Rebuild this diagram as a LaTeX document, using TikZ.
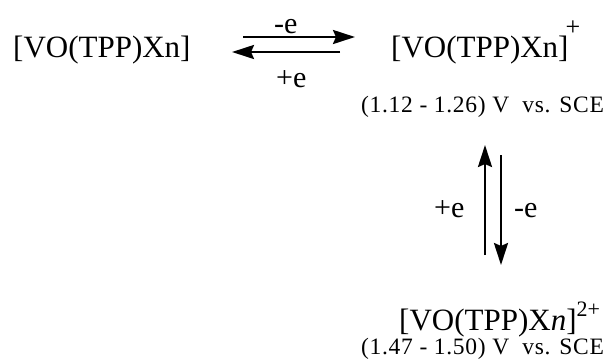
\documentclass[tikz,border=0pt]{standalone}
\usepackage{fontspec}
\setmainfont{Liberation Serif}
\usetikzlibrary{arrows.meta}
\begin{document}
\begin{tikzpicture}[x=1pt, y=-1pt,
    species/.style={inner sep=0pt, anchor=base west, font=\fontsize{31}{31}\selectfont},
    electron/.style={inner sep=0pt, anchor=base west, font=\fontsize{30}{30}\selectfont},
    potential/.style={inner sep=0pt, anchor=base west, font=\fontsize{23.5}{24}\selectfont\addfontfeature{LetterSpace=3}},
    redox/.style={line width=2.6pt, -{Stealth[length=22pt, width=14pt, inset=3pt]}}]
    \useasboundingbox (0,0) rectangle (614,360);

    % Species
    \node[species] (neutral) at (13,57) {[VO(TPP)Xn]};
    \node[species] (cation) at (391,57) {[VO(TPP)Xn]\kern-3pt\raisebox{22pt}{\fontsize{26}{26}\selectfont +}};
    \node[species] (dication) at (399,330) {[VO(TPP)X\textit{n}]\raisebox{14pt}{\fontsize{22}{22}\selectfont 2+}};

    % Potentials
    \node[potential] (potA) at (361,112) {(1.12 - 1.26) V\ \ vs. SCE};
    \node[potential] (potB) at (361,354) {(1.47 - 1.50) V\ \ vs. SCE};

    % First oxidation
    \coordinate (oxAtail) at (243,37);
    \coordinate (oxAtip) at (355,37);
    \coordinate (redAtail) at (340,52);
    \coordinate (redAtip) at (232,52);
    \draw[redox] (oxAtail) -- (oxAtip);
    \draw[redox] (redAtail) -- (redAtip);
    \node[electron] (lossA) at (274,33) {-e};
    \node[electron] (gainA) at (276,87) {+e};

    % Second oxidation
    \coordinate (redBtail) at (485,255);
    \coordinate (redBtip) at (485,145);
    \coordinate (oxBtail) at (501,155);
    \coordinate (oxBtip) at (501,265);
    \draw[redox] (redBtail) -- (redBtip);
    \draw[redox] (oxBtail) -- (oxBtip);
    \node[electron] (gainB) at (434,217) {+e};
    \node[electron] (lossB) at (514,217) {-e};
\end{tikzpicture}
\end{document}
